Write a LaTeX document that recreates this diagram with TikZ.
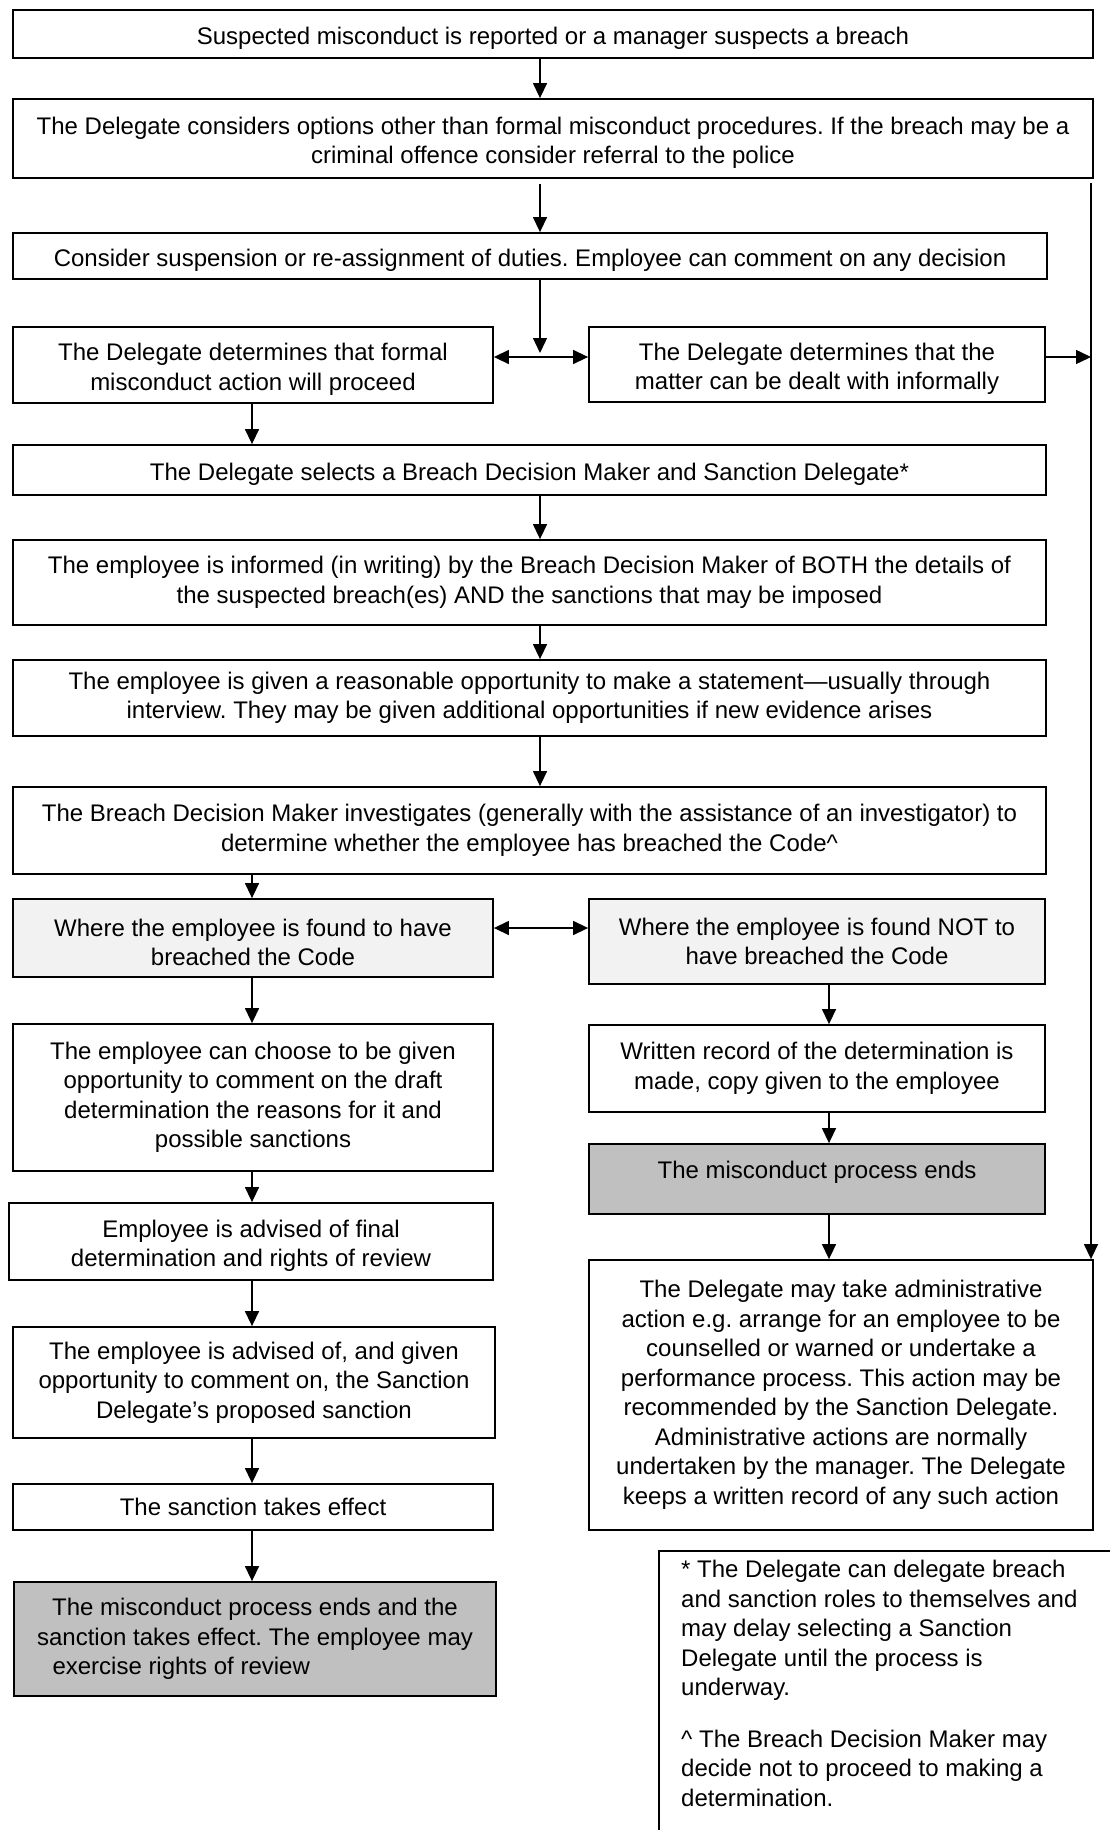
\documentclass[tikz,border=0pt]{standalone}
\usepackage{fontspec}
\setmainfont{Liberation Sans}
\usetikzlibrary{arrows.meta}
\definecolor{lightfill}{RGB}{242,242,242}
\definecolor{darkfill}{RGB}{192,192,192}
\newcommand\boxfont{\fontsize{24}{29.5}\selectfont\frenchspacing}
\newcommand\dnstrut{\rule{0pt}{26pt}}
\tikzset{
  box/.style={draw, line width=1.8pt, inner sep=0pt, align=center, font=\boxfont},
  tdown/.style={execute at begin node={\dnstrut}},
  lgray/.style={fill=lightfill},
  dgray/.style={fill=darkfill},
  arr/.style={line width=1.4pt, -{Triangle[length=15pt,width=14pt]}},
  arrtwo/.style={line width=1.4pt, {Triangle[length=15pt,width=14pt]}-{Triangle[length=15pt,width=14pt]}},
}
\begin{document}
\begin{tikzpicture}[x=1pt,y=-1pt]
\useasboundingbox (0,0) rectangle (1110,1830);

% helper coordinates
\coordinate (mx) at (540,0);
\coordinate (lx) at (252,0);
\coordinate (rx) at (829,0);
\coordinate (j1) at (540,353);
\coordinate (j1h) at (540,357);
\coordinate (j2h) at (540,928);
\coordinate (vtop) at (1091,183);

% boxes
\node[box, tdown, minimum width=1080pt, minimum height=48pt] (n1) at (553,34)
  {Suspected misconduct is reported or a manager suspects a breach};
\node[box, minimum width=1080pt, minimum height=79pt] (n2) at (553,138.5)
  {\dnstrut The Delegate considers options other than formal misconduct procedures. If the breach may be a\\criminal offence consider referral to the police};
\node[box, tdown, minimum width=1034pt, minimum height=46pt] (n3) at (530,256)
  {Consider suspension or re-assignment of duties. Employee can comment on any decision};
\node[box, minimum width=480pt, minimum height=76pt] (n4L) at (253,365)
  {\dnstrut The Delegate determines that formal\\misconduct action will proceed};
\node[box, minimum width=456pt, minimum height=75pt] (n4R) at (817,364.5)
  {\dnstrut The Delegate determines that the\\matter can be dealt with informally};
\node[box, tdown, minimum width=1033pt, minimum height=50pt] (n5) at (529.5,470)
  {The Delegate selects a Breach Decision Maker and Sanction Delegate*};
\node[box, minimum width=1033pt, minimum height=85pt] (n6) at (529.5,582.5)
  {The employee is informed (in writing) by the Breach Decision Maker of BOTH the details of\\the suspected breach(es) AND the sanctions that may be imposed};
\node[box, minimum width=1033pt, minimum height=76pt] (n7) at (529.5,698)
  {The employee is given a reasonable opportunity to make a statement—usually through\\interview. They may be given additional opportunities if new evidence arises};
\node[box, minimum width=1033pt, minimum height=87pt] (n8) at (529.5,830.5)
  {The Breach Decision Maker investigates (generally with the assistance of an investigator) to\\determine whether the employee has breached the Code\textasciicircum};
\node[box, lgray, minimum width=480pt, minimum height=78pt] (n9L) at (253,938)
  {\dnstrut Where the employee is found to have\\breached the Code};
\node[box, lgray, minimum width=456pt, minimum height=85pt] (n9R) at (817,941.5)
  {Where the employee is found NOT to\\have breached the Code};
\node[box, minimum width=480pt, minimum height=147pt] (n10L) at (253,1097.5)
  {The employee can choose to be given\\opportunity to comment on the draft\\determination the reasons for it and\\possible sanctions};
\node[box, minimum width=456pt, minimum height=87pt] (n10R) at (817,1068.5)
  {Written record of the determination is\\made, copy given to the employee};
\node[box, tdown, dgray, minimum width=456pt, minimum height=70pt, text depth=27pt] (n11R) at (817,1179)
  {The misconduct process ends};
\node[box, minimum width=484pt, minimum height=77pt] (n12L) at (251,1241.5)
  {\dnstrut Employee is advised of final\\determination and rights of review};
\node[box, minimum width=482pt, minimum height=111pt] (n13L) at (254,1382.5)
  {The employee is advised of, and given\\opportunity to comment on, the Sanction\\Delegate’s proposed sanction};
\node[box, minimum width=480pt, minimum height=46pt] (n14L) at (253,1507)
  {The sanction takes effect};
\node[box, dgray, minimum width=482pt, minimum height=114pt] (n15L) at (255,1639)
  {The misconduct process ends and the\\sanction takes effect. The employee may\\\makebox[434pt][l]{\hspace{14.5pt}exercise rights of review}};
\node[box, minimum width=504pt, minimum height=270pt] (admin) at (841,1395)
  {The Delegate may take administrative\\action e.g. arrange for an employee to be\\counselled or warned or undertake a\\performance process. This action may be\\recommended by the Sanction Delegate.\\Administrative actions are normally\\undertaken by the manager. The Delegate\\keeps a written record of any such action};

% notes box (runs off the page at right and bottom)
\draw[line width=1.8pt] (1110,1551) -- (659,1551) -- (659,1830);
\node[anchor=north west, inner sep=0pt, align=left, font=\boxfont] (notes) at (681,1560)
  {* The Delegate can delegate breach\\and sanction roles to themselves and\\may delay selecting a Sanction\\Delegate until the process is\\underway.\\[22pt]\textasciicircum{} The Breach Decision Maker may\\decide not to proceed to making a\\determination.};

% connectors
\draw[arr] (n1.south -| mx) -- (n2.north -| mx);
\draw[arr] (n2.south -| mx) ++(0,5) -- (n3.north -| mx);
\draw[arr] (n3.south -| mx) -- (j1);
\draw[arrtwo] (n4L.east |- j1h) -- (n4R.west |- j1h);
\draw[arr] (n4R.east |- j1h) -- (vtop |- j1h);
\draw[arr] (vtop) -- (vtop |- admin.north);
\draw[arr] (n4L.south -| lx) -- (n5.north -| lx);
\draw[arr] (n5.south -| mx) -- (n6.north -| mx);
\draw[arr] (n6.south -| mx) -- (n7.north -| mx);
\draw[arr] (n7.south -| mx) -- (n8.north -| mx);
\draw[arr] (n8.south -| lx) -- (n9L.north -| lx);
\draw[arrtwo] (n9L.east |- j2h) -- (n9R.west |- j2h);
\draw[arr] (n9L.south -| lx) -- (n10L.north -| lx);
\draw[arr] (n10L.south -| lx) -- (n12L.north -| lx);
\draw[arr] (n12L.south -| lx) -- (n13L.north -| lx);
\draw[arr] (n13L.south -| lx) -- (n14L.north -| lx);
\draw[arr] (n14L.south -| lx) -- (n15L.north -| lx);
\draw[arr] (n9R.south -| rx) -- (n10R.north -| rx);
\draw[arr] (n10R.south -| rx) -- (n11R.north -| rx);
\draw[arr] (n11R.south -| rx) -- (admin.north -| rx);
\end{tikzpicture}
\end{document}
